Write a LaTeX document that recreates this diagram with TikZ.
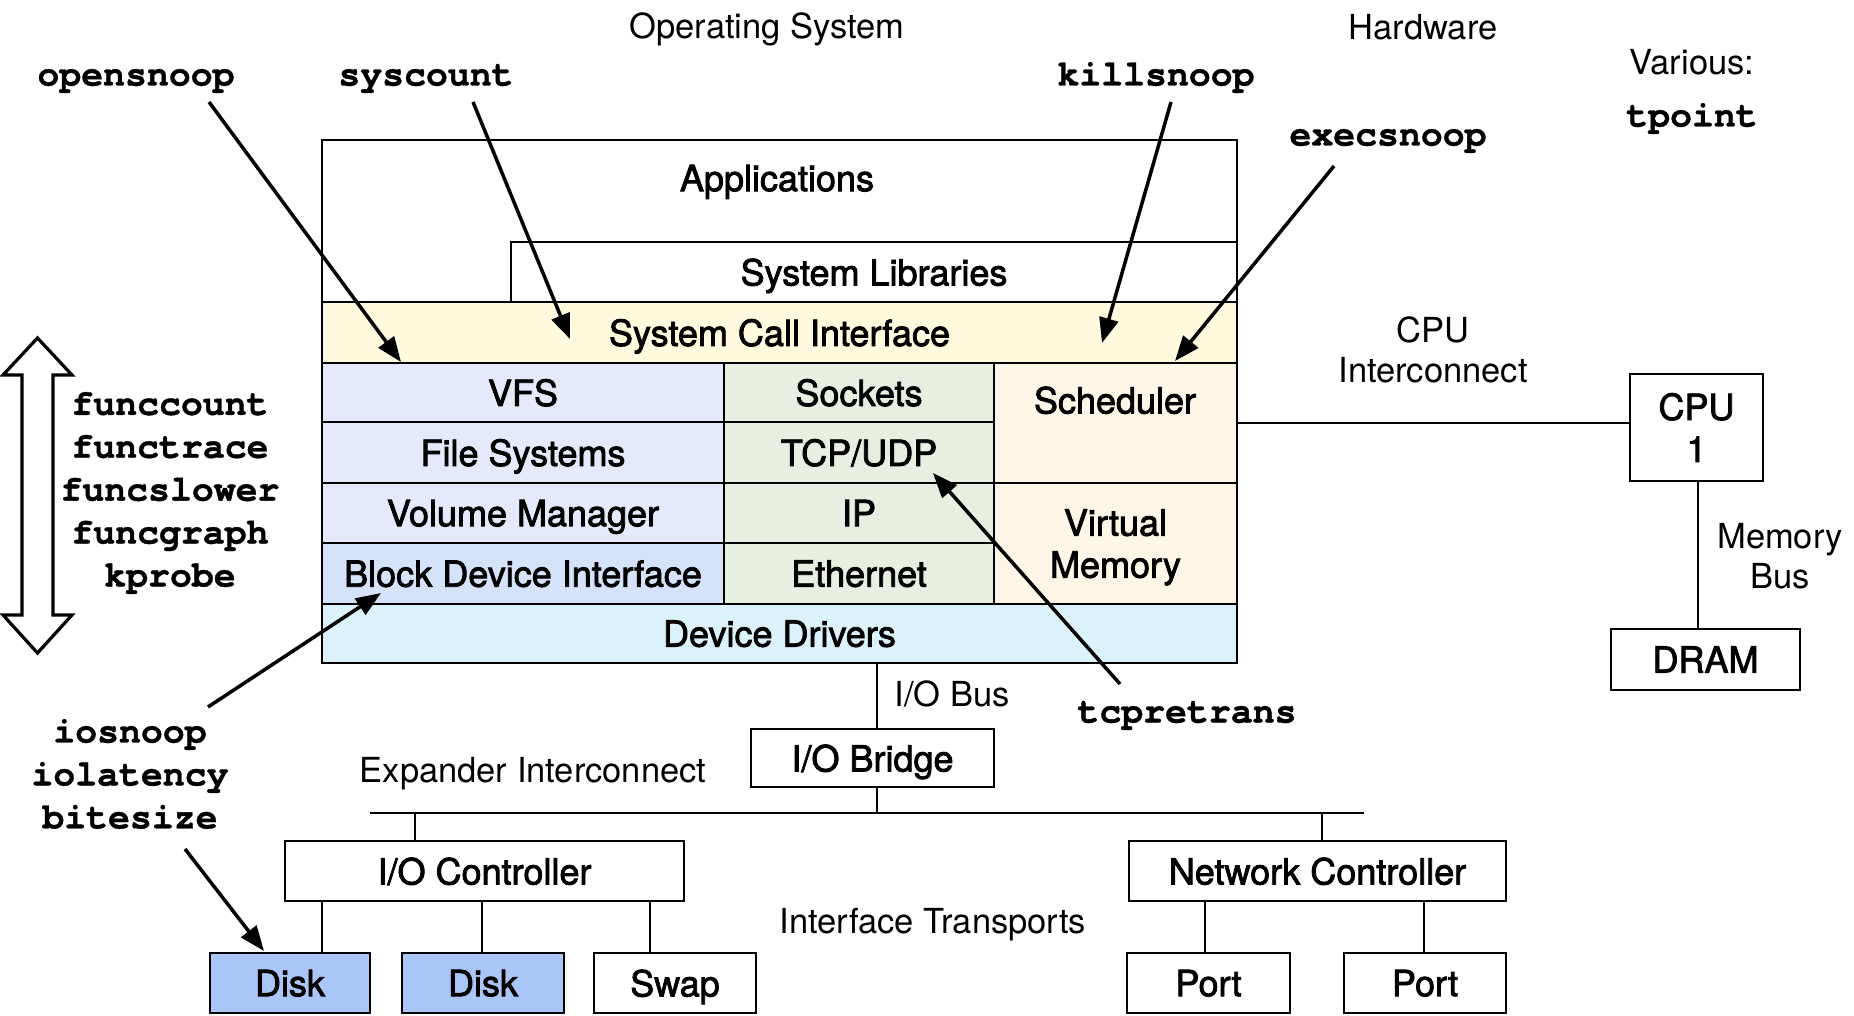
\documentclass[tikz,border=0pt]{standalone}
\usepackage{fontspec}
\setmainfont{TeX Gyre Heros}
\newfontfamily\boxfont[FakeBold=2.2]{TeX Gyre Heros}
\newfontfamily\codefont[FakeBold=1]{TeX Gyre Cursor}
\usetikzlibrary{arrows.meta,calc}
\definecolor{sciC}{HTML}{FFF9DE}
\definecolor{fsC}{HTML}{E4EAFB}
\definecolor{bdiC}{HTML}{D4E2FA}
\definecolor{netC}{HTML}{E7F0E0}
\definecolor{kernC}{HTML}{FDF6E6}
\definecolor{ddC}{HTML}{DCF2FA}
\definecolor{diskC}{HTML}{A9C6F7}
\begin{document}
\begin{tikzpicture}[x=1pt,y=-1pt,
  box/.style={draw, line width=2pt, inner sep=0pt, outer sep=0pt, align=center,
    anchor=north west, text depth=0pt, font=\boxfont\fontsize{36}{42}\selectfont},
  boxtext/.style={inner sep=0pt, align=center, text depth=0pt, font=\boxfont\fontsize{36}{42}\selectfont},
  lab/.style={inner sep=0pt, align=center, font=\fontsize{34.5}{40}\selectfont},
  code/.style={inner sep=0pt, align=center, font=\codefont\bfseries\fontsize{36.5}{42.9}\selectfont},
  arr/.style={line width=3.5pt, -{Triangle[length=25pt,width=19pt]}},
  wire/.style={line width=2pt}]
\useasboundingbox (0,0) rectangle (1854,1016);

% ---- operating system stack
\node[box, minimum width=915pt, minimum height=162pt] (apps) at (322,140) {};
\node[boxtext] (appstext) at (777,178) {Applications};
\node[box, minimum width=726pt, minimum height=60pt] (syslib) at (511,242) {System Libraries};
\node[box, fill=sciC, minimum width=915pt, minimum height=61pt] (sci) at (322,302) {System Call Interface};
\node[box, fill=fsC, minimum width=402pt, minimum height=59pt] (vfs) at (322,363) {VFS};
\node[box, fill=fsC, minimum width=402pt, minimum height=61pt] (fsys) at (322,422) {File Systems};
\node[box, fill=fsC, minimum width=402pt, minimum height=60pt] (volm) at (322,483) {Volume Manager};
\node[box, fill=bdiC, minimum width=402pt, minimum height=61pt] (bdi) at (322,543) {Block Device Interface};
\node[box, fill=netC, minimum width=270pt, minimum height=59pt] (sock) at (724,363) {Sockets};
\node[box, fill=netC, minimum width=270pt, minimum height=61pt] (tcp) at (724,422) {TCP/UDP};
\node[box, fill=netC, minimum width=270pt, minimum height=60pt] (ip) at (724,483) {IP};
\node[box, fill=netC, minimum width=270pt, minimum height=61pt] (eth) at (724,543) {Ethernet};
\node[box, fill=kernC, minimum width=243pt, minimum height=120pt] (sched) at (994,363) {};
\node[boxtext] (schedtext) at (1115,400) {Scheduler};
\node[box, fill=kernC, minimum width=243pt, minimum height=121pt] (virt) at (994,483) {Virtual\\Memory};
\node[box, fill=ddC, minimum width=915pt, minimum height=59pt] (dd) at (322,604) {Device Drivers};

% ---- hardware
\node[box, minimum width=133pt, minimum height=107pt] (cpu) at (1630,374) {CPU\\1};
\node[box, minimum width=189pt, minimum height=61pt] (dram) at (1611,629) {DRAM};
\node[box, minimum width=243pt, minimum height=58pt] (bridge) at (751,729) {I/O Bridge};
\node[box, minimum width=399pt, minimum height=60pt] (ioc) at (285,841) {I/O Controller};
\node[box, minimum width=377pt, minimum height=60pt] (nc) at (1129,841) {Network Controller};
\node[box, fill=diskC, minimum width=160pt, minimum height=60pt] (disk1) at (210,953) {Disk};
\node[box, fill=diskC, minimum width=162pt, minimum height=60pt] (disk2) at (402,953) {Disk};
\node[box, minimum width=162pt, minimum height=60pt] (swap) at (594,953) {Swap};
\node[box, minimum width=163pt, minimum height=60pt] (port1) at (1127,953) {Port};
\node[box, minimum width=162pt, minimum height=60pt] (port2) at (1344,953) {Port};

\coordinate (busL) at (370,813);
\coordinate (busR) at (1364,813);
\draw[wire] (sched.east) -- (sched.east -| cpu.west);
\draw[wire] (cpu.south -| 1698,0) -- (dram.north -| 1698,0);
\draw[wire] (dd.south -| 877,0) -- (bridge.north -| 877,0);
\draw[wire] (bridge.south -| 877,0) -- (busL -| 877,0);
\draw[wire] (busL) -- (busR);
\draw[wire] (busL -| 415,0) -- (ioc.north -| 415,0);
\draw[wire] (busL -| 1322,0) -- (nc.north -| 1322,0);
\draw[wire] (ioc.south -| 322,0) -- (disk1.north -| 322,0);
\draw[wire] (ioc.south -| 482,0) -- (disk2.north -| 482,0);
\draw[wire] (ioc.south -| 650,0) -- (swap.north -| 650,0);
\draw[wire] (nc.south -| 1205,0) -- (port1.north -| 1205,0);
\draw[wire] (nc.south -| 1424,0) -- (port2.north -| 1424,0);

% ---- labels
\node[lab] (os) at (767,29) {Operating System};
\node[lab] (hw) at (1423,27) {Hardware};
\node[lab] (various) at (1692,62) {Various:};
\node[code, anchor=base] (tpoint) at (1692,126.5) {tpoint};
\node[lab] (cpuic) at (1433,350) {CPU\\Interconnect};
\node[lab] (membus) at (1780,556) {Memory\\Bus};
\node[lab] (iobus) at (952,694) {I/O Bus};
\node[lab] (expic) at (533,774) {Expander Interconnect};
\node[lab] (ift) at (933,925) {Interface Transports};

\node[code, anchor=base] (opensnoop) at (136,85.5) {opensnoop};
\node[code, anchor=base] (syscount) at (426,85.5) {syscount};
\node[code, anchor=base] (killsnoop) at (1156,85.5) {killsnoop};
\node[code, anchor=base] (execsnoop) at (1388,145.5) {execsnoop};
\node[code, anchor=base] (tcpretrans) at (1187,722.5) {tcpretrans};
\node[code] (funcs) at (170,493) {funccount\\functrace\\funcslower\\funcgraph\\kprobe};
\node[code] (iotools) at (130,774) {iosnoop\\iolatency\\bitesize};

% ---- arrows
\coordinate (s1) at (209,102); \coordinate (e1) at (401,362);
\coordinate (s2) at (473,102); \coordinate (e2) at (570,339);
\coordinate (s3) at (1171,102); \coordinate (e3) at (1102,343);
\coordinate (s4) at (1334,166); \coordinate (e4) at (1175,361);
\coordinate (s5) at (1120,684); \coordinate (e5) at (933,473);
\coordinate (s6) at (208,707); \coordinate (e6) at (381,593);
\coordinate (s7) at (185,849); \coordinate (e7) at (264,951);
\draw[arr] (s1) -- (e1);
\draw[arr] (s2) -- (e2);
\draw[arr] (s3) -- (e3);
\draw[arr] (s4) -- (e4);
\draw[arr] (s5) -- (e5);
\draw[arr] (s6) -- (e6);
\draw[arr] (s7) -- (e7);

% ---- hollow double arrow
\draw[line width=3.2pt, fill=white, line join=miter]
  (37.5,338) -- (72,375) -- (53,375) -- (53,615) -- (72,615) -- (37.5,653)
  -- (3,615) -- (22,615) -- (22,375) -- (3,375) -- cycle;
\end{tikzpicture}
\end{document}
